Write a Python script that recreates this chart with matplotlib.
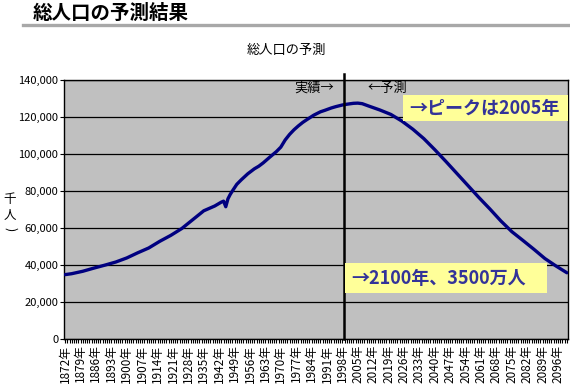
import matplotlib

matplotlib.use("Agg")
import matplotlib.pyplot as plt
from matplotlib.patches import Rectangle
from matplotlib.ticker import FixedLocator, MultipleLocator, FuncFormatter

plt.rcParams["font.family"] = ["Noto Sans CJK JP", "DejaVu Sans"]

# total population (thousand persons), actual up to 2005, projection after
YEARS = [1872, 1875, 1880, 1885, 1890, 1895, 1900, 1905, 1910, 1915, 1920,
         1925, 1930, 1935, 1940, 1942, 1943, 1944, 1945, 1946, 1947, 1948,
         1949, 1950, 1952, 1955, 1958, 1960, 1962, 1965, 1968, 1970, 1972,
         1974, 1976, 1978, 1980, 1982, 1985, 1988, 1990, 1993, 1995, 1998,
         2000, 2003, 2005, 2007, 2010, 2015, 2020, 2025, 2030, 2035, 2040,
         2045, 2050, 2055, 2060, 2065, 2070, 2075, 2080, 2085, 2090, 2095,
         2100]
POP = [34800, 35300, 36600, 38300, 39900, 41600, 43800, 46600, 49200, 52800,
       56000, 59700, 64500, 69300, 71900, 73300, 74000, 74500, 71500, 75800,
       78100, 80000, 81800, 83600, 86000, 89300, 92000, 93400, 95200, 98300,
       101300, 103700, 107600, 110600, 113100, 115200, 117100, 118700,
       121000, 122800, 123600, 124900, 125600, 126500, 126900, 127400,
       127500, 127200, 125900, 123800, 121400, 117800, 113400, 108300,
       102300, 96000, 89500, 83000, 76500, 70300, 63800, 58000, 53300, 48500,
       43500, 39500, 35800]

TICK_YEARS = list(range(1872, 2100, 7))
SPLIT_YEAR = 1998.5

W, H = 570, 388
fig = plt.figure(figsize=(W / 100, H / 100), dpi=100)


def fx(px):
    return px / W


def fy(py):
    return 1 - py / H


# page heading + grey rule
fig.text(fx(33), fy(13), "総人口の予測結果", fontsize=14, fontweight="bold",
         ha="left", va="center")
fig.add_artist(plt.Line2D([fx(23), 1.0], [fy(24.5), fy(24.5)], color="#a8a8a8", lw=2.4))
fig.text(fx(286), fy(50), "総人口の予測", fontsize=9.5, ha="center", va="center")

ax = fig.add_axes([fx(64), fy(339), fx(568) - fx(64), fy(80) - fy(339)])
ax.set_facecolor("#c0c0c0")
ax.plot(YEARS, POP, color="#000080", lw=2.4, solid_capstyle="round",
        solid_joinstyle="round", zorder=3)

ax.set_xlim(1871.5, 2100.5)
ax.set_ylim(0, 140000)
ax.yaxis.set_major_locator(MultipleLocator(20000))
ax.yaxis.set_major_formatter(FuncFormatter(lambda v, p: f"{v:,.0f}"))
ax.grid(axis="y", color="black", lw=0.9)
ax.set_axisbelow(True)
ax.xaxis.set_major_locator(FixedLocator(TICK_YEARS))
ax.set_xticklabels([f"{y}年" for y in TICK_YEARS], rotation=90, fontsize=8.5)
ax.xaxis.set_minor_locator(MultipleLocator(1))
ax.tick_params(axis="x", which="both", length=3, width=0.8, pad=1)
ax.tick_params(axis="y", length=3, labelsize=8, pad=1)
for s in ax.spines.values():
    s.set_color("black")
    s.set_linewidth(1.0)

# actual / forecast split line (sticks out above the plot)
ax.plot([SPLIT_YEAR, SPLIT_YEAR], [0, 1.025], color="black", lw=1.8,
        transform=ax.get_xaxis_transform(), clip_on=False, zorder=4)
fig.text(fx(314), fy(88), "実績→", fontsize=9.5, ha="center", va="center")
fig.text(fx(387), fy(88), "←予測", fontsize=9.5, ha="center", va="center")

# y label written vertically
fig.text(fx(10), fy(200), "千", fontsize=9, ha="center", va="center")
fig.text(fx(10), fy(215), "人", fontsize=9, ha="center", va="center")
fig.text(fx(10), fy(229), ")", fontsize=9, ha="center", va="center", rotation=-90)

# yellow call-outs
for (x0, y0, x1, y1), txt in [((403, 95, 568, 121), "→ピークは2005年"),
                              ((345, 263, 547, 293), "→2100年、3500万人")]:
    fig.add_artist(Rectangle((fx(x0), fy(y1)), fx(x1) - fx(x0), fy(y0) - fy(y1),
                             transform=fig.transFigure, facecolor="#ffff99",
                             edgecolor="none", zorder=5))
    fig.text(fx(x0 + 6), fy((y0 + y1) / 2), txt, fontsize=13, fontweight="bold",
             color="#333399", ha="left", va="center", zorder=6)

fig.savefig("out.png", dpi=100, facecolor="white")
